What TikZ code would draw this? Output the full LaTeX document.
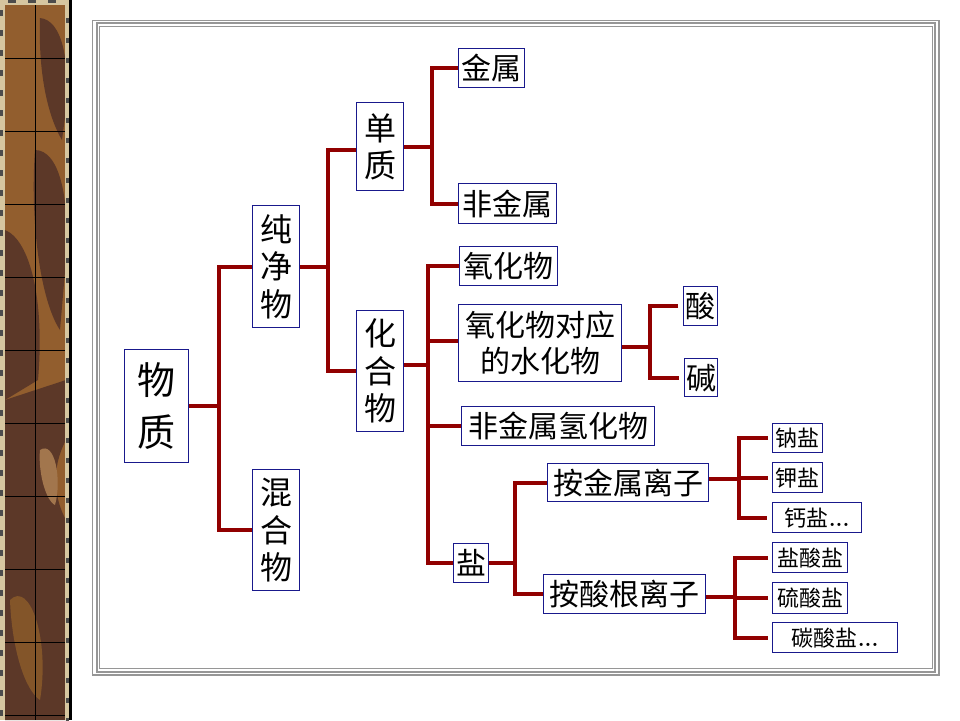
\documentclass[tikz,border=0pt]{standalone}
\usepackage{fontspec}
\newfontfamily\cjk{Noto Sans CJK SC}
\definecolor{connc}{RGB}{145,0,0}
\definecolor{boxc}{RGB}{25,25,140}
\definecolor{framec}{RGB}{150,150,150}
\definecolor{stripbase}{RGB}{146,94,46}
\definecolor{stripdark}{RGB}{92,56,40}
\definecolor{stripedge}{RGB}{214,198,160}
\begin{document}
\begin{tikzpicture}[x=1pt,y=-1pt,
  box/.style={draw=boxc, line width=1.3pt, fill=white, inner sep=0pt, anchor=north west, align=center, text=black},
  fl/.style={font=\cjk\fontsize{38}{52}\selectfont},
  fv/.style={font=\cjk\fontsize{32}{37.5}\selectfont},
  fm/.style={font=\cjk\fontsize{30}{36}\selectfont},
  fs/.style={font=\cjk\fontsize{22}{26}\selectfont},
  conn/.style={draw=connc, line width=3.7pt},
  frameline/.style={draw=framec}]
\useasboundingbox (0,0) rectangle (960,720);
\fill[white] (0,0) rectangle (960,720);

% decorative left strip
\fill[stripbase] (0,0) rectangle (70,720);
\fill[stripdark] (40,18) .. controls (62,20) and (70,60) .. (66,110) -- (62,140) .. controls (50,120) and (38,80) .. (40,18) -- cycle;
\fill[stripdark] (35,150) .. controls (60,150) and (70,200) .. (66,260) -- (60,330) .. controls (40,300) and (30,220) .. (35,150) -- cycle;
\fill[stripdark] (5,230) .. controls (30,240) and (45,300) .. (38,380) -- (5,400) -- cycle;
\fill[stripdark] (5,400) -- (66,380) -- (66,440) .. controls (50,470) and (55,500) .. (66,520) -- (66,720) -- (5,720) -- cycle;
\fill[stripbase!85!white] (40,450) .. controls (55,440) and (62,480) .. (55,505) .. controls (45,500) and (38,470) .. (40,450) -- cycle;
\fill[stripbase!90!black] (10,600) .. controls (30,580) and (50,640) .. (40,700) .. controls (25,690) and (12,650) .. (10,600) -- cycle;
\fill[stripbase] (5,0) rectangle (35,58);
\fill[stripedge] (0,0) rectangle (5,720);
\fill[stripedge] (65,0) rectangle (69,720);
\fill[stripedge] (0,0) rectangle (70,5);
\fill[black] (69,0) rectangle (72,720);
\foreach \yy in {10,30,...,710} {\fill[black!70] (0,\yy) rectangle (3,\yy+6); \fill[black!70] (66,\yy+8) rectangle (69,\yy+13);}
\foreach \xx in {8,28,48} {\fill[black!70] (\xx,0) rectangle (\xx+8,3);}
\draw[black, line width=1pt] (35,5) -- (35,720);
\foreach \yy in {58,131,204,277,350,423,496,569,642,715} {\draw[black, line width=1pt] (5,\yy) -- (65,\yy);}

% frame
\draw[frameline, line width=1.2pt] (92.5,20.5) rectangle (939,675);
\draw[frameline, line width=2.2pt] (97,23.3) rectangle (935.3,671.7);
\draw[frameline, line width=1.2pt] (99.8,26.2) rectangle (932.4,668.4);

% nodes
\node[box,fl,minimum width=64pt,minimum height=113pt] (wuzhi) at (124,349) {物\\质};
\node[box,fv,minimum width=47pt,minimum height=122pt] (chunjing) at (252,205) {纯\\净\\物};
\node[box,fv,minimum width=47pt,minimum height=121pt] (hunhe) at (252,469) {混\\合\\物};
\node[box,fv,minimum width=47pt,minimum height=88pt] (danzhi) at (356,102) {单\\质};
\node[box,fv,minimum width=47pt,minimum height=121pt] (huahe) at (356,310) {化\\合\\物};
\node[box,fm,minimum width=66pt,minimum height=39pt] (jinshu) at (458,48) {金属};
\node[box,fm,minimum width=98pt,minimum height=40pt] (feijin) at (458,183) {非金属};
\node[box,fm,minimum width=98pt,minimum height=39pt] (yanghua) at (459,246) {氧化物};
\node[box,fm,minimum width=163pt,minimum height=77pt] (duiying) at (458,304) {氧化物对应\\的水化物};
\node[box,fm,minimum width=34pt,minimum height=39pt] (suan) at (683,286) {酸};
\node[box,fm,minimum width=33pt,minimum height=38pt] (jian) at (684,358) {碱};
\node[box,fm,minimum width=193pt,minimum height=39pt] (qinghua) at (461,406) {非金属氢化物};
\node[box,fm,minimum width=35pt,minimum height=39pt] (yan) at (453,543) {盐};
\node[box,fm,minimum width=161pt,minimum height=38pt] (anjin) at (547,463) {按金属离子};
\node[box,fm,minimum width=162pt,minimum height=39pt] (ansuan) at (543,574) {按酸根离子};
\node[box,fs,minimum width=50pt,minimum height=29pt] (na) at (772,423) {钠盐};
\node[box,fs,minimum width=50pt,minimum height=30pt] (jia) at (772,462) {钾盐};
\node[box,fs,minimum width=89pt,minimum height=30pt] (gai) at (772,502) {钙盐{\rmfamily\bfseries...}};
\node[box,fs,minimum width=75pt,minimum height=30pt] (yansuan) at (772,542) {盐酸盐};
\node[box,fs,minimum width=75pt,minimum height=31pt] (liu) at (772,582) {硫酸盐};
\node[box,fs,minimum width=125pt,minimum height=30pt] (tan) at (772,622) {碳酸盐{\rmfamily\bfseries...}};

% trunk positions
\coordinate (t1) at (219,0);
\coordinate (t2) at (328,0);
\coordinate (t3) at (432,0);
\coordinate (t4) at (428,0);
\coordinate (t5) at (650,0);
\coordinate (t6) at (515,0);
\coordinate (t7) at (739,0);
\coordinate (t8) at (735,0);

% connectors
\draw[conn] (wuzhi.east) -- (wuzhi.east -| t1);
\draw[conn] (chunjing.west) -| (t1 |- hunhe.west) -- (hunhe.west);
\draw[conn] (chunjing.east) -- (chunjing.east -| t2);
\draw[conn] ([yshift=-3pt]danzhi.west) -| (t2 |- huahe.west) -- (huahe.west);
\draw[conn] (danzhi.east) -- (danzhi.east -| t3);
\draw[conn] (jinshu.west) -| (t3 |- feijin.west) -- (feijin.west);
\draw[conn] ([yshift=6pt]huahe.east) -- ([yshift=6pt]huahe.east -| t4);
\draw[conn] (yanghua.west) -| (t4 |- yan.west) -- (yan.west);
\draw[conn] ([yshift=2pt]duiying.west) -- ([yshift=2pt]duiying.west -| t4);
\draw[conn] (qinghua.west) -- (qinghua.west -| t4);
\draw[conn] ([yshift=-4pt]duiying.east) -- ([yshift=-4pt]duiying.east -| t5);
\draw[conn] ([xshift=-5pt]suan.west) -| (t5 |- jian.west) -- ([xshift=-5pt]jian.west);
\draw[conn] (yan.east) -- (yan.east -| t6);
\draw[conn] (anjin.west) -| (t6 |- ansuan.west) -- (ansuan.west);
\draw[conn] ([yshift=4pt]anjin.east) -- ([yshift=4pt]anjin.east -| t7);
\draw[conn] ([xshift=-4pt]na.west) -| (t7 |- gai.west) -- ([xshift=-5pt]gai.west);
\draw[conn] ([xshift=-4pt]jia.west) -- (jia.west -| t7);
\draw[conn] ([yshift=-3pt]ansuan.east) -- ([yshift=-3pt]ansuan.east -| t8);
\draw[conn] ([xshift=-4pt]yansuan.west) -| (t8 |- tan.west) -- ([xshift=-4pt]tan.west);
\draw[conn] ([xshift=-4pt]liu.west) -- (liu.west -| t8);
\end{tikzpicture}
\end{document}
